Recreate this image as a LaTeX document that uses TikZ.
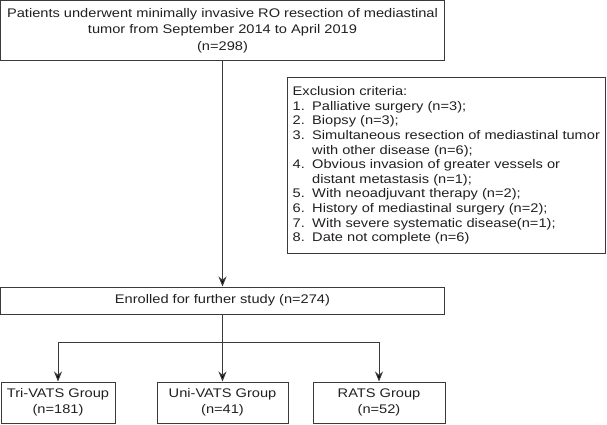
\documentclass[tikz,border=0pt]{standalone}
\usepackage{fontspec}
\setmainfont{Liberation Sans}[FakeStretch=1.17]
\usetikzlibrary{arrows.meta,positioning}
\definecolor{linec}{HTML}{3A3A3A}
\definecolor{textc}{HTML}{231F20}
\newcommand{\numtab}[1]{\hbox to 19.5pt{#1\hfil}}
\begin{document}
\begin{tikzpicture}[x=1pt,y=-1pt,
  box/.style={draw=linec,line width=1pt,rectangle,inner sep=0pt,text=textc,align=center,font=\fontsize{12.5}{16.5}\selectfont},
  arr/.style={draw=linec,line width=1pt,-{Stealth[length=10pt,width=8pt,fill=black]}},
  conn/.style={draw=linec,line width=1pt}]
\useasboundingbox (0,0) rectangle (607,425);
\node[box,minimum width=444pt,minimum height=60pt] (top) at (222.5,30.5)
  {Patients underwent minimally invasive RO resection of mediastinal\\tumor from September 2014 to April 2019\\(n=298)};
\node[box,minimum width=318pt,minimum height=175pt] (excl) at (446.5,165.5) {};
\node[anchor=north west,inner sep=0pt,text=textc,align=left,font=\fontsize{12.5}{14.6}\selectfont] (excltext) at (292.5,86.5)
  {Exclusion criteria:\\
  \numtab{1.}Palliative surgery (n=3);\\
  \numtab{2.}Biopsy (n=3);\\
  \numtab{3.}Simultaneous resection of mediastinal tumor\\
  \numtab{}with other disease (n=6);\\
  \numtab{4.}Obvious invasion of greater vessels or\\
  \numtab{}distant metastasis (n=1);\\
  \numtab{5.}With neoadjuvant therapy (n=2);\\
  \numtab{6.}History of mediastinal surgery (n=2);\\
  \numtab{7.}With severe systematic disease(n=1);\\
  \numtab{8.}Date not complete (n=6)};
\node[box,minimum width=444pt,minimum height=27pt] (enr) at (222.5,300.5) {Enrolled for further study (n=274)};
\node[box,minimum width=114pt,minimum height=41pt] (g1) at (58,402.5) {Tri-VATS Group\\(n=181)};
\node[box,minimum width=131pt,minimum height=41pt] (g2) at (222.5,402.5) {Uni-VATS Group\\(n=41)};
\node[box,minimum width=132pt,minimum height=41pt] (g3) at (379,402.5) {RATS Group\\(n=52)};
\coordinate (j) at (222.5,342);
\draw[arr] (top.south) -- (enr.north);
\draw[arr] (enr.south) -- (g2.north);
\draw[arr] (j) -| (g1.north);
\draw[arr] (j) -| (g3.north);
\end{tikzpicture}
\end{document}
